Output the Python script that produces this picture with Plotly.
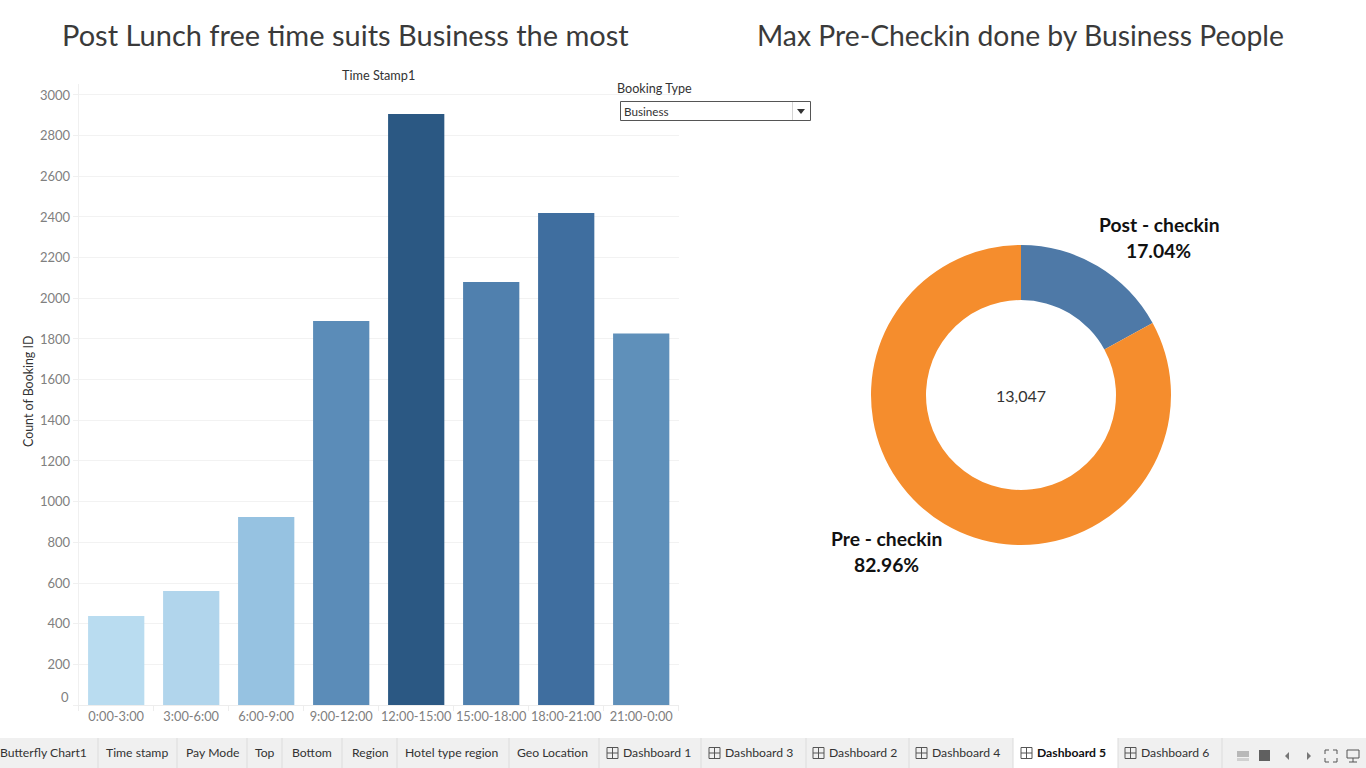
import plotly.graph_objects as go

W, H = 1366, 768
FONT = "Lato"

# ---- data ----
time_slots = ["0:00-3:00", "3:00-6:00", "6:00-9:00", "9:00-12:00", "12:00-15:00", "15:00-18:00", "18:00-21:00", "21:00-0:00"]
booking_counts = [438, 561, 925, 1889, 2907, 2080, 2420, 1827]
bar_colors = ["#b9dcf0", "#b1d5ec", "#96c2e1", "#5b8cb8", "#2b5883", "#5080ae", "#3f6e9f", "#5f90ba"]
y_ticks = list(range(0, 3001, 200))
checkin_labels = ["Post - checkin", "Pre - checkin"]
checkin_values = [2223, 10824]
checkin_pct = ["17.04%", "82.96%"]
checkin_colors = ["#4e79a7", "#f58d2d"]
total_label = "13,047"
plain_tabs = ["Butterfly Chart1", "Time stamp", "Pay Mode", "Top", "Bottom", "Region", "Hotel type region", "Geo Location"]
plain_tab_x = [43, 137, 212, 265, 312, 370, 451, 552]
dash_tabs = ["Dashboard 1", "Dashboard 3", "Dashboard 2", "Dashboard 4", "Dashboard 5", "Dashboard 6"]
dash_tab_x = [621, 723, 827, 930, 1035, 1139]
tab_seps = [98, 177, 247, 282, 342, 397, 509, 599, 701, 806, 909, 1013, 1118, 1222]
ACTIVE = "Dashboard 5"


def px(x):
    return x / W


def py(y):
    return 1 - y / H


fig = go.Figure()
fig.add_trace(go.Bar(x=time_slots, y=booking_counts, marker=dict(color=bar_colors, line=dict(width=0)), hoverinfo="x+y", showlegend=False))
fig.add_trace(go.Pie(
    labels=checkin_labels, values=checkin_values, marker=dict(colors=checkin_colors, line=dict(width=0)),
    hole=95 / 150, sort=False, direction="clockwise", rotation=0, textinfo="none", showlegend=False,
    domain=dict(x=[px(871), px(1171)], y=[py(545), py(245)]),
))

shapes, ann = [], []


def text(x, y, s, size=12, color="#333333", xanchor="center", family=FONT, **kw):
    ann.append(dict(x=px(x), y=py(y), xref="paper", yref="paper", text=s, showarrow=False, xanchor=xanchor,
                    yanchor="middle", font=dict(size=size, color=color, family=family), **kw))


def rect(x0, y0, x1, y1, fill="rgba(0,0,0,0)", line=None, lw=1, layer="above"):
    shapes.append(dict(type="rect", xref="paper", yref="paper", x0=px(x0), x1=px(x1), y0=py(y0), y1=py(y1), fillcolor=fill,
                       line=dict(color=line or "rgba(0,0,0,0)", width=lw if line else 0), layer=layer))


def seg(x0, y0, x1, y1, color="#555555", lw=1):
    shapes.append(dict(type="line", xref="paper", yref="paper", x0=px(x0), x1=px(x1), y0=py(y0), y1=py(y1), line=dict(color=color, width=lw)))


# titles
text(345.5, 35, "Post Lunch free time suits Business the most", size=29, color="#3a3a3a")
text(1020.5, 35, "Max Pre-Checkin done by Business People", size=28.3, color="#3a3a3a")
text(378.5, 75, "Time Stamp1", size=12.7, color="#333333")
text(28, 392, "Count of Booking ID", size=12.4, color="#333333", textangle=-90)
text(71, 697, "0", size=13, color="#808080", xanchor="right")

# dropdown
text(615, 88.5, "Booking Type", size=12.6, color="#333333", xanchor="left")
rect(620.5, 101.5, 810.5, 120.5, fill="#ffffff", line="#555555")
seg(792.5, 102, 792.5, 120, color="#d4d4d4")
text(622, 110.5, "Business", size=11.7, color="#333333", xanchor="left")
shapes.append(dict(type="path", xref="paper", yref="paper",
                   path=f"M {px(797)} {py(109)} L {px(805)} {py(109)} L {px(801)} {py(114)} Z",
                   fillcolor="#333333", line=dict(width=0)))

# donut labels
text(1159, 224.5, "<b>" + checkin_labels[0] + "</b>", size=19.3, color="#111111")
text(1158, 250.5, "<b>" + checkin_pct[0] + "</b>", size=19.3, color="#111111")
text(887, 538.5, "<b>" + checkin_labels[1] + "</b>", size=19.3, color="#111111")
text(886, 564.5, "<b>" + checkin_pct[1] + "</b>", size=19.3, color="#111111")
text(1021, 395, total_label, size=16, color="#333333")

# tab strip
rect(0, 738, W, 768, fill="#f0f0f0")
rect(1013, 738, 1118, 768, fill="#ffffff")
for sx in tab_seps:
    seg(sx, 738, sx, 768, color="#dcdcdc")
for name, x in zip(plain_tabs, plain_tab_x):
    text(x, 752.5, name, size=12.2, color="#333333")
for name, x in zip(dash_tabs, dash_tab_x):
    active = name == ACTIVE
    text(x, 752.5, f"<b>{name}</b>" if active else name, size=12.2, color="#111111" if active else "#333333", xanchor="left")
    rect(x - 14, 747.5, x - 3, 758.5, line="#555555")
    seg(x - 8.5, 747.5, x - 8.5, 758.5)
    seg(x - 14, 753, x - 3, 753)

# window controls
rect(1237, 751, 1249, 757, fill="#b8b8b8")
rect(1237, 758, 1249, 761, fill="#d0d0d0")
rect(1259, 750, 1270, 761, fill="#606060")
shapes.append(dict(type="path", xref="paper", yref="paper", path=f"M {px(1289)} {py(752)} L {px(1289)} {py(760)} L {px(1285)} {py(756)} Z", fillcolor="#777777", line=dict(width=0)))
shapes.append(dict(type="path", xref="paper", yref="paper", path=f"M {px(1307)} {py(752)} L {px(1307)} {py(760)} L {px(1311)} {py(756)} Z", fillcolor="#777777", line=dict(width=0)))
for x0, y0, dx, dy in [(1325, 750, 1, 1), (1337, 750, -1, 1), (1325, 762, 1, -1), (1337, 762, -1, -1)]:
    seg(x0, y0, x0 + 4 * dx, y0, color="#555555")
    seg(x0, y0, x0, y0 + 4 * dy, color="#555555")
rect(1347, 750, 1359, 758, line="#555555")
seg(1353, 758, 1353, 762)
seg(1349, 762, 1357, 762)

fig.update_layout(
    width=W, height=H, margin=dict(l=0, r=0, t=0, b=0, autoexpand=False), paper_bgcolor="#ffffff", plot_bgcolor="#ffffff",
    font=dict(family=FONT), bargap=0.25, shapes=shapes, annotations=ann,
    xaxis=dict(domain=[px(78.7), px(678.7)], anchor="y", automargin=False, tickangle=0, tickson="boundaries", ticks="outside", ticklen=5, tickcolor="#ededed",
               showline=True, linecolor="#ededed", showgrid=False, tickfont=dict(size=12.8, color="#808080")),
    yaxis=dict(domain=[py(705), py(84)], automargin=False, range=[0, 3054], tickvals=y_ticks, ticktext=[""] + [str(v) for v in y_ticks[1:]],
               ticks="outside", ticklen=5, tickcolor="#f0f0f0", showline=True, linecolor="#f0f0f0",
               gridcolor="#f2f2f2", gridwidth=1, zeroline=False, tickfont=dict(size=13, color="#808080")),
)

fig.write_html("out.html", config=dict(displayModeBar=False), post_script="document.body.style.margin='0';document.body.style.overflow='hidden';")
